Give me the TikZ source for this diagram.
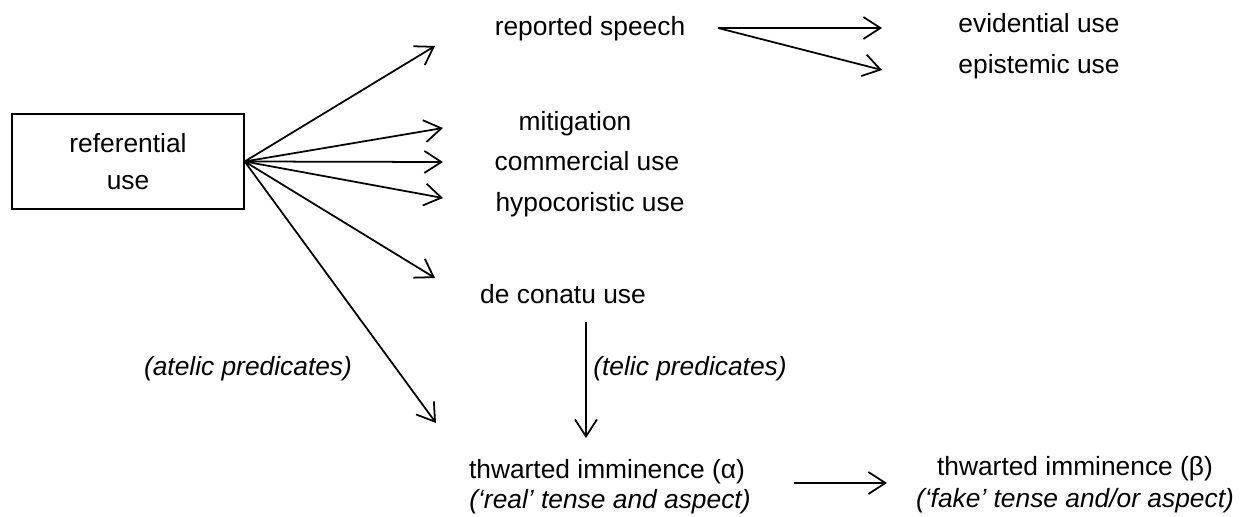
\documentclass[tikz,border=0pt]{standalone}
\usepackage{fontspec}
\setmainfont{Liberation Sans}
\usetikzlibrary{arrows.meta}

\begin{document}
\begin{tikzpicture}[x=0.02cm, y=-0.02cm,
    every node/.style={inner sep=0pt, anchor=base, font=\fontsize{15pt}{18pt}\selectfont},
    usebox/.style={draw, line width=0.8pt, minimum width=4.64cm, minimum height=1.9cm,
        align=center, anchor=center, font=\fontsize{15pt}{21pt}\selectfont},
    gloss/.style={font=\fontsize{15pt}{18pt}\selectfont\itshape},
    link/.style={line width=1pt, -{Straight Barb[length=0.34cm, width=0.44cm]}}]
\useasboundingbox (0,0) rectangle (1248,517);
% source of all uses
\node[usebox] (ref) at (128,161.5) {referential\\use};
% uses derived from it
\node (rep) at (590,36) {reported speech};
\node (evid) at (1039,33) {evidential use};
\node (epist) at (1039,74) {epistemic use};
\node (mitig) at (575,131) {mitigation};
\node (comm) at (587,171) {commercial use};
\node (hypo) at (590,212) {hypocoristic use};
\node (conatu) at (563,303) {de conatu use};
\node (thwa) at (607,478) {thwarted imminence (α)};
\node[gloss] (thwa-g) at (610,508) {(‘real’ tense and aspect)};
\node (thwb) at (1075,475) {thwarted imminence (β)};
\node[gloss] (thwb-g) at (1075,507) {(‘fake’ tense and/or aspect)};
\node[gloss] (atelic) at (248,375) {(atelic predicates)};
\node[gloss, anchor=base west] (telic) at (593,375) {(telic predicates)};
% arrow ends
\coordinate (rep-in) at (435,46);
\coordinate (mitig-in) at (443,128);
\coordinate (comm-in) at (443,162);
\coordinate (hypo-in) at (443,198);
\coordinate (conatu-in) at (435,278);
\coordinate (atelic-in) at (436,423);
\coordinate (rep-out) at (718,28);
\coordinate (evid-in) at (882,28);
\coordinate (epist-in) at (882,70);
\coordinate (conatu-out) at (586,322);
\coordinate (thwa-in) at (586,438);
\coordinate (thwa-out) at (794,483);
\coordinate (thwb-in) at (887,483);
\draw[link] (ref.east) -- (rep-in);
\draw[link] (ref.east) -- (mitig-in);
\draw[link] (ref.east) -- (comm-in);
\draw[link] (ref.east) -- (hypo-in);
\draw[link] (ref.east) -- (conatu-in);
\draw[link] (ref.east) -- (atelic-in);
\draw[link] (rep-out) -- (evid-in);
\draw[link] (rep-out) -- (epist-in);
\draw[link] (conatu-out) -- (thwa-in);
\draw[link] (thwa-out) -- (thwb-in);
\end{tikzpicture}
\end{document}
